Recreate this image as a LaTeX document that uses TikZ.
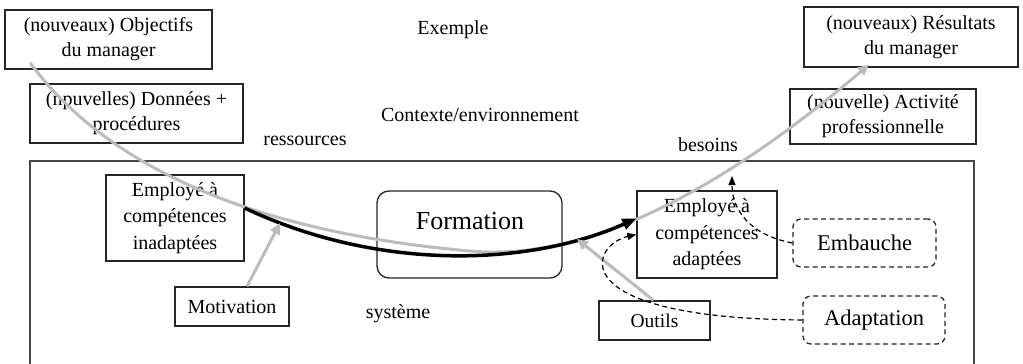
\documentclass[tikz,border=0pt]{standalone}
\usepackage{fontspec}
\setmainfont{Liberation Serif}
\usetikzlibrary{arrows.meta}
\definecolor{linegray}{RGB}{188,188,188}
\definecolor{framegray}{RGB}{70,70,70}

\begin{document}
\begin{tikzpicture}[x=1pt,y=-1pt,
  txt/.style={font=\fontsize{20}{25}\selectfont},
  box/.style={txt, draw=black!85, line width=1.3pt, inner sep=0pt, align=center},
  tribox/.style={box, font=\fontsize{20}{26.5}\selectfont},
  dbox/.style={box, dash pattern=on 5pt off 3.5pt, rounded corners=8pt, font=\fontsize{22.5}{27}\selectfont},
  free/.style={txt, inner sep=0pt},
  flow/.style={line width=3.5pt, -{Triangle[length=14pt,width=11pt]}},
  grayarrow/.style={draw=linegray, line width=3pt, -{Triangle[length=11pt,width=10pt]}},
  dasharrow/.style={line width=1.2pt, dash pattern=on 5pt off 3.5pt, -{Triangle[length=9pt,width=7pt]}}
]
\useasboundingbox (0,0) rectangle (1023,364);
\fill[white] (0,0) rectangle (1023,364);

% system frame (its bottom edge lies below the page)
\draw[framegray, line width=1.5pt] (30,370) -- (30,161) -- (974,161) -- (974,370);

% free labels
\node[free] (exemple)  at (453,30)  {Exemple};
\node[free] (contexte) at (480,115) {Contexte/environnement};
\node[free] (ress)     at (305,141) {ressources};
\node[free] (besoins)  at (708,145) {besoins};
\node[free] (systeme)  at (398,314) {système};

% boxes outside the system
\node[box, minimum width=207, minimum height=59] (obj) at (108.5,39.5) {(nouveaux) Objectifs\\du manager};
\node[box, minimum width=213, minimum height=59] (don) at (136.5,113.5) {(npuvelles) Données +\\procédures};
\node[box, minimum width=214, minimum height=60] (res) at (911,37) {(nouveaux) Résultats\\du manager};
\node[box, minimum width=186, minimum height=55] (act) at (883,116.5) {(nouvelle) Activité\\professionnelle};

% boxes inside the system
\node[tribox, minimum width=138, minimum height=86] (inad) at (175,218) {Employé à\\compétences\\inadaptées};
\node[tribox, minimum width=140, minimum height=87] (adap) at (707,234.5) {Employé à\\compétences\\adaptées};
\node[box, rounded corners=12pt, minimum width=185, minimum height=87] (form) at (469.5,234.5) {};
\node[inner sep=0pt, font=\fontsize{26}{31}\selectfont] (formtxt) at (470,221) {Formation};
\node[box, minimum width=114, minimum height=39] (mot) at (232,306.5) {Motivation};
\node[box, minimum width=111, minimum height=39, font=\fontsize{19.5}{23}\selectfont] (out) at (654.5,320.5) {Outils};
\node[dbox, minimum width=143, minimum height=48] (emb) at (864.5,243) {Embauche};
\node[dbox, minimum width=142, minimum height=48] (adapt) at (874,320) {Adaptation};

% arrow ends that sit on the curves
\coordinate (mtip) at (280,223);
\coordinate (otip) at (577,239);
\coordinate (btip) at (732,176);

% manager's objectives to results
\draw[grayarrow] ([shift={(-78.5pt,7pt)}]obj.south) .. controls (128,196) and (320,238) .. (470,251)
  .. controls (580,261) and (710,200) .. ([shift={(-42pt,3pt)}]res.south);

% training path
\draw[flow] ([yshift=10pt]inad.east) .. controls (380,272) and (530,266) .. ([yshift=16pt]adap.west);

% motivation and tools
\draw[grayarrow] ([xshift=15pt]mot.north) -- (mtip);
\draw[grayarrow] ([xshift=-1pt]out.north) -- (otip);

% other routes
\draw[dasharrow] (adapt.west) .. controls (560,318) and (590,245) .. (adap.west);
\draw[dasharrow] (emb.west) .. controls (750,235) and (732,210) .. (btip);
\end{tikzpicture}
\end{document}
